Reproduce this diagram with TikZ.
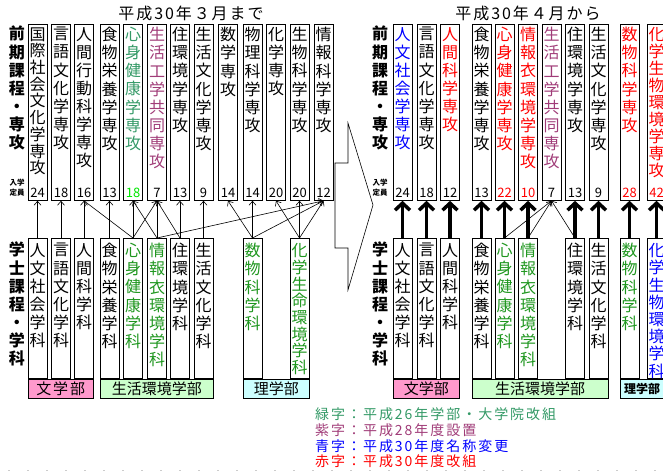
\documentclass[tikz,border=0pt]{standalone}
\usepackage{fontspec}
\setmainfont{Noto Sans CJK JP}
\newfontfamily\aki[LetterSpace=12]{Noto Sans CJK JP}
\newfontfamily\hanreifont[LetterSpace=14]{Noto Sans CJK JP}
\usepackage{tikz}
\usetikzlibrary{arrows.meta,positioning}

\definecolor{midori}{RGB}{51,153,102}
\definecolor{fukamidori}{RGB}{30,150,30}
\definecolor{kimidori}{RGB}{0,230,0}
\definecolor{murasaki}{RGB}{160,60,120}
\definecolor{ao}{RGB}{0,0,255}
\definecolor{aka}{RGB}{255,0,0}
\definecolor{momo}{RGB}{255,153,204}
\definecolor{usumidori}{RGB}{204,255,204}
\definecolor{mizuiro}{RGB}{204,255,255}

\makeatletter
\def\tatepitch{18.1pt}
\newcommand\tate[1]{\baselineskip=\tatepitch\relax\lineskiplimit=-\maxdimen\tate@#1\relax}
\def\tate@#1{\ifx\relax#1\else\hbox to 19pt{\hss#1\hss}\expandafter\tate@\fi}
\makeatother
\newcommand\kou[3][black]{\vbox to 170pt{\tate{#2}\vfill\hbox to 19pt{\hss\fontsize{13pt}{13pt}\selectfont\color{#1}#3\hss}}}
\newcommand\gak[1]{\vbox to 134pt{\vskip 2pt\tate{#1}\vss}}

\begin{document}
\begin{tikzpicture}[x=1pt, y=-1pt,
	senko/.style={draw, line width=0.8pt, anchor=north, inner sep=0pt, minimum width=19pt, minimum height=176pt, font=\fontsize{16pt}{18pt}\selectfont},
	gakka/.style={senko, minimum height=140pt},
	bu/.style={draw, line width=0.8pt, anchor=north west, inner sep=0pt, minimum height=19pt, font=\fontsize{15pt}{18pt}\selectfont},
	midashi/.style={anchor=north, inner sep=0pt, font=\bfseries\fontsize{16pt}{18pt}\selectfont},
	teiin/.style={inner sep=0pt, align=center, font=\bfseries\fontsize{7.5pt}{10pt}\selectfont},
	nendo/.style={inner sep=0pt, font=\aki\fontsize{16pt}{18pt}\selectfont},
	hanrei/.style={anchor=west, inner sep=0pt, font=\hanreifont\fontsize{14pt}{16pt}\selectfont},
	yaji/.style={-{Straight Barb[length=4pt,width=7pt]}, line width=0.6pt},
	futoyaji/.style={-{Straight Barb[length=7pt,width=15pt]}, line width=3.5pt}]
	\useasboundingbox (0,0) rectangle (663,471);
	\clip (0,0) rectangle (663,471);

	\node[nendo] (mae) at (191,13) {平成30年３月まで};
	\node[nendo] (ato) at (528,13) {平成30年４月から};

	\node[midashi] (zenki1) at (17,26) {\vbox{\tate{前期課程・専攻}}};
	\node[teiin] (teiin1) at (17,188) {入学\\定員};
	\node[midashi] (gakushi1) at (17,242) {\vbox{\tate{学士課程・学科}}};
	\node[midashi] (zenki2) at (380,26) {\vbox{\tate{前期課程・専攻}}};
	\node[teiin] (teiin2) at (380,188) {入学\\定員};
	\node[midashi] (gakushi2) at (380,242) {\vbox{\tate{学士課程・学科}}};

	\node[senko] (m1) at (37.5,24) {\def\tatepitch{16.7pt}\kou{国際社会文化学専攻}{24}};
	\node[senko] (m2) at (61,24) {\kou{言語文化学専攻}{18}};
	\node[senko] (m3) at (84,24) {\kou{人間行動科学専攻}{16}};
	\node[senko] (m4) at (109.5,24) {\kou{食物栄養学専攻}{13}};
	\node[senko, text=midori] (m5) at (133,24) {\kou[kimidori]{心身健康学専攻}{18}};
	\node[senko, text=murasaki] (m6) at (157,24) {\kou{生活工学共同専攻}{7}};
	\node[senko] (m7) at (180,24) {\kou{住環境学専攻}{13}};
	\node[senko] (m8) at (203.5,24) {\kou{生活文化学専攻}{9}};
	\node[senko] (m9) at (228,24) {\kou{数学専攻}{14}};
	\node[senko] (m10) at (252.5,24) {\kou{物理科学専攻}{14}};
	\node[senko] (m11) at (276,24) {\kou{化学専攻}{20}};
	\node[senko] (m12) at (299.5,24) {\kou{生物科学専攻}{20}};
	\node[senko] (m13) at (323.5,24) {\kou{情報科学専攻}{12}};

	\node[gakka] (g1) at (37.5,238) {\gak{人文社会学科}};
	\node[gakka] (g2) at (61,238) {\gak{言語文化学科}};
	\node[gakka] (g3) at (84,238) {\gak{人間科学科}};
	\node[gakka] (g4) at (109.5,238) {\gak{食物栄養学科}};
	\node[gakka, text=fukamidori] (g5) at (133,238) {\gak{心身健康学科}};
	\node[gakka, text=fukamidori] (g6) at (157,238) {\gak{情報衣環境学科}};
	\node[gakka] (g7) at (180,238) {\gak{住環境学科}};
	\node[gakka] (g8) at (203.5,238) {\gak{生活文化学科}};
	\node[gakka, text=fukamidori] (g9) at (252.5,238) {\gak{数物科学科}};
	\node[gakka, text=fukamidori] (g10) at (299.5,238) {\def\tatepitch{16.7pt}\gak{化学生命環境学科}};

	\node[bu, fill=momo, minimum width=65.5pt] (bun1) at (g1.south west) {\aki 文学部};
	\node[bu, fill=usumidori, minimum width=113.5pt] (seikatsu1) at (g4.south west) {生活環境学部};
	\node[bu, fill=mizuiro, minimum width=66.5pt] (ri1) at (g9.south west) {理学部};

	\path[yaji]
		(g1.north) edge (m1.south)
		(g2.north) edge (m2.south)
		(g3.north) edge (m3.south)
		(g4.north) edge (m4.south)
		(g5.north) edge (m3.south)
		(g5.north) edge (m5.south)
		(g5.north) edge (m6.south)
		(g6.north) edge (m5.south)
		(g6.north) edge (m6.south)
		(g6.north) edge (m13.south)
		(g7.north) edge (m6.south)
		(g7.north) edge (m7.south)
		(g8.north) edge (m8.south)
		(g9.north) edge (m9.south)
		(g9.north) edge (m10.south)
		(g9.north) edge (m13.south)
		(g10.north) edge (m11.south)
		(g10.north) edge (m12.south)
		(g10.north) edge (m13.south)
	;

	\draw[line width=0.6pt] (335,163) -- (348,163) -- (348,123) -- (373,205) -- (348,290) -- (348,248) -- (335,248) -- cycle;

	\node[senko, text=ao] (n1) at (402.5,24) {\kou{人文社会学専攻}{24}};
	\node[senko] (n2) at (426.5,24) {\kou{言語文化学専攻}{18}};
	\node[senko, text=aka] (n3) at (450,24) {\kou{人間科学専攻}{12}};
	\node[senko] (n4) at (481.5,24) {\kou{食物栄養学専攻}{13}};
	\node[senko, text=aka] (n5) at (504.5,24) {\kou[aka]{心身健康学専攻}{22}};
	\node[senko, text=aka] (n6) at (528,24) {\kou[aka]{情報衣環境学専攻}{10}};
	\node[senko, text=murasaki] (n7) at (551.5,24) {\kou{生活工学共同専攻}{7}};
	\node[senko] (n8) at (575,24) {\kou{住環境学専攻}{13}};
	\node[senko] (n9) at (598.5,24) {\kou{生活文化学専攻}{9}};
	\node[senko, text=aka] (n10) at (629.5,24) {\kou[aka]{数物科学専攻}{28}};
	\node[senko, text=aka] (n11) at (656.5,24) {\def\tatepitch{17pt}\kou[aka]{化学生物環境学専攻}{42}};

	\node[gakka] (k1) at (402.5,238) {\gak{人文社会学科}};
	\node[gakka] (k2) at (426.5,238) {\gak{言語文化学科}};
	\node[gakka] (k3) at (450,238) {\gak{人間科学科}};
	\node[gakka] (k4) at (481.5,238) {\gak{食物栄養学科}};
	\node[gakka, text=fukamidori] (k5) at (504.5,238) {\gak{心身健康学科}};
	\node[gakka, text=fukamidori] (k6) at (528,238) {\gak{情報衣環境学科}};
	\node[gakka] (k7) at (575,238) {\gak{住環境学科}};
	\node[gakka] (k8) at (598.5,238) {\gak{生活文化学科}};
	\node[gakka, text=fukamidori] (k9) at (629.5,238) {\gak{数物科学科}};
	\node[gakka, text=ao] (k10) at (656.5,238) {\def\tatepitch{17.2pt}\gak{化学生物環境学科}};

	\node[bu, fill=momo, minimum width=66.5pt] (bun2) at (k1.south west) {文学部};
	\node[bu, fill=usumidori, minimum width=136pt] (seikatsu2) at (k4.south west) {生活環境学部};
	\node[bu, fill=mizuiro, minimum width=44pt, font=\bfseries\fontsize{12pt}{14pt}\selectfont] (ri2) at (k9.south west) {理学部};

	\path[futoyaji]
		(k1.north) edge (n1.south)
		(k2.north) edge (n2.south)
		(k3.north) edge (n3.south)
		(k4.north) edge (n4.south)
		(k5.north) edge (n5.south)
		(k6.north) edge (n6.south)
		(k7.north) edge (n8.south)
		(k8.north) edge (n9.south)
		(k9.north) edge (n10.south)
		(k10.north) edge (n11.south)
	;
	\path[yaji]
		(k5.north) edge (n7.south)
		(k6.north) edge (n7.south)
		(k7.north) edge (n7.south)
	;

	\node[hanrei, text=midori] (h1) at (315,414) {緑字：平成26年学部・大学院改組};
	\node[hanrei, text=murasaki] (h2) at (315,430) {紫字：平成28年度設置};
	\node[hanrei, text=ao] (h3) at (315,446) {青字：平成30年度名称変更};
	\node[hanrei, text=aka] (h4) at (315,461) {赤字：平成30年度改組};

	\draw[black!20, line width=1pt, dash pattern=on 2pt off 17pt] (8,470) -- (663,470);
\end{tikzpicture}
\end{document}
